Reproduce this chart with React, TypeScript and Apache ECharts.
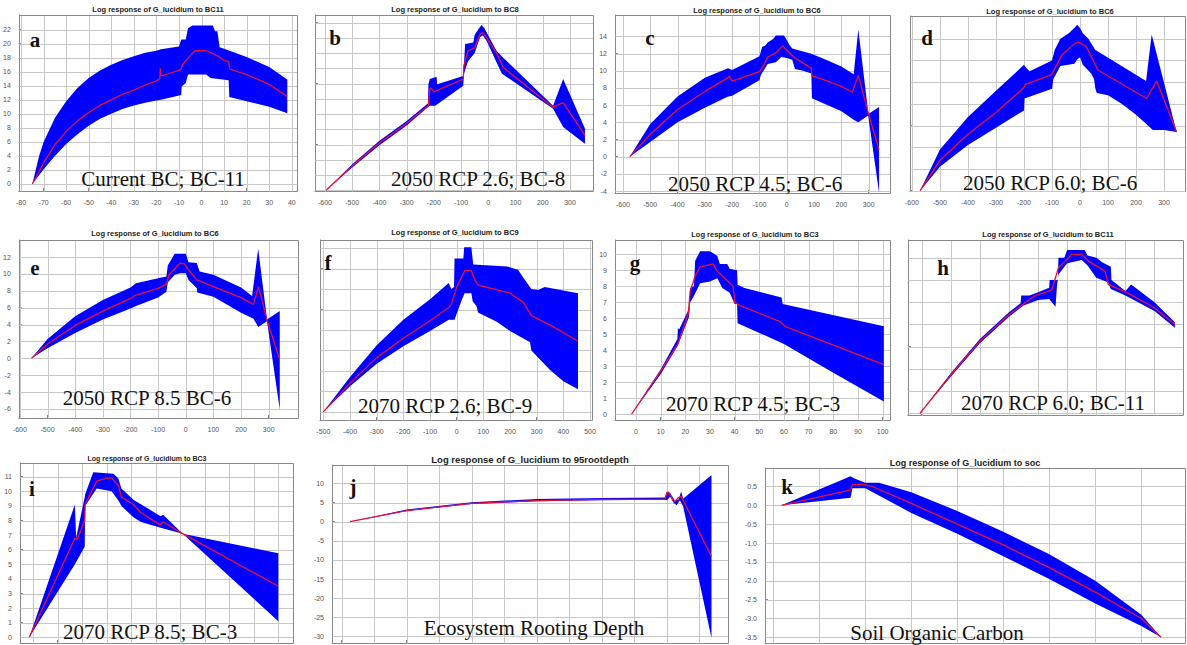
import React, { useEffect, useRef } from "react";
import * as echarts from "echarts";

type P = [number, number][];

// ---------- data: panel a ----------
const aUpper: P = [[-75,0],[-72,4.0],[-70,6.0],[-65,9.4],[-60,11.8],[-55,13.7],[-50,15.1],[-45,16.2],[-40,17.0],[-35,17.7],[-30,18.2],[-25,18.7],[-20,19.0],[-18,19.2],[-10,19.6],[-9,20.6],[-7,20.6],[-6,22.2],[-4,22.6],[5,22.6],[6,21.8],[7,21.8],[8,19.5],[10,19.3],[20,18.1],[30,16.7],[38,14.9]];
const aLower: P = [[-75,0],[-70,2.1],[-65,4.0],[-60,5.7],[-55,7.1],[-50,8.3],[-45,9.3],[-40,10.0],[-35,10.7],[-30,11.2],[-25,11.6],[-20,11.9],[-18,12.0],[-9,12.7],[-8.8,13.9],[-7,14.4],[-6,15.6],[2,15.6],[4,15.1],[12,14.8],[12.3,12.4],[20,11.8],[30,11.0],[38,10.1]];
const aMean: P = [[-75,0],[-70,3.0],[-65,5.6],[-60,7.5],[-55,9.0],[-50,10.2],[-45,11.2],[-40,12.0],[-35,12.8],[-30,13.4],[-25,14.1],[-20,14.7],[-18.5,15.0],[-18.3,16.5],[-18,15.4],[-10,16.2],[-9,16.4],[-8.5,17.0],[-5,18.3],[-3,19.0],[2,19.0],[5,18.6],[8,18.1],[10,17.6],[12,17.5],[12.5,16.4],[20,15.6],[30,14.2],[38,12.5]];
const aXTicks = [-80,-70,-60,-50,-40,-30,-20,-10,0,10,20,30,40];
const aYTicks = [0,2,4,6,8,10,12,14,16,18,20,22];

// ---------- panel b ----------
const bUpper: P = [[-596,0],[-500,3.4],[-400,6.5],[-300,9.1],[-222,11.4],[-220,13.9],[-215,14.6],[-190,14.9],[-188,13.9],[-92,15.0],[-90,16.3],[-85,19.2],[-55,19.4],[-50,20.4],[-35,21.2],[-25,21.7],[-15,21.3],[30,18.3],[55,17.4],[238,11.1],[275,14.6],[355,8.1]];
const bLower: P = [[-596,0],[-500,3.0],[-400,5.9],[-300,8.5],[-222,10.9],[-215,11.1],[-195,11.1],[-92,13.7],[-90,15.2],[-75,16.9],[-50,18.0],[-30,20.1],[-20,20.3],[-6,19.6],[30,16.8],[50,15.3],[238,10.7],[275,8.3],[355,6.1]];
const bMean: P = [[-596,0],[-500,3.2],[-400,6.2],[-300,8.8],[-220,11.1],[-215,13.3],[-210,13.4],[-200,12.9],[-92,14.6],[-90,16.3],[-75,18.3],[-50,18.7],[-30,20.5],[-20,20.7],[-6,20.0],[30,18.0],[55,16.1],[238,10.9],[275,11.5],[355,7.2]];
const bXTicks = [-600,-500,-400,-300,-200,-100,0,100,200,300];
const bYTicks = [0,2,4,6,8,10,12,14,16,18,20,22];

// ---------- panel c ----------
const cUpper: P = [[-575,0],[-500,3.8],[-400,7.0],[-300,9.2],[-215,10.3],[-200,10.1],[-100,11.7],[-90,12.8],[-80,12.9],[-70,13.3],[-50,13.7],[-40,14.1],[-10,14.1],[0,13.6],[10,13.0],[20,12.6],[90,12.0],[150,11.2],[200,10.5],[245,9.6],[262,14.8],[298,5.2],[300,5.0],[338,5.8]];
const cLower: P = [[-575,0],[-500,1.7],[-400,4.0],[-300,5.7],[-215,7.0],[-213,7.0],[-200,7.1],[-100,8.9],[-95,9.5],[-70,10.8],[-40,11.0],[-20,11.6],[0,11.5],[20,11.3],[30,10.2],[60,10.0],[90,9.7],[92,6.8],[150,6.0],[200,5.3],[245,4.3],[262,4.0],[298,4.8],[338,-4.2]];
const cMean: P = [[-575,0],[-500,2.6],[-400,5.5],[-300,7.6],[-215,9.2],[-212,9.4],[-200,8.8],[-100,9.9],[-85,10.6],[-70,11.6],[-40,12.1],[-15,12.9],[30,11.5],[60,10.9],[90,10.3],[92,9.4],[150,8.8],[200,8.2],[240,7.5],[262,9.5],[300,4.9],[338,0.8]];
const cXTicks = [-600,-500,-400,-300,-200,-100,0,100,200,300];
const cYTicks = [-4,-2,0,2,4,6,8,10,12,14];

// ---------- panel d ----------
const dUpper: P = [[-571,0],[-500,3.8],[-400,6.8],[-300,9.2],[-200,11.6],[-195,11.4],[-180,11.0],[-100,12.0],[-90,13.0],[-70,14.0],[-40,14.5],[-20,15.0],[-10,15.3],[0,15.0],[10,14.5],[30,14.0],[54,13.0],[236,10.1],[256,14.4],[345,5.4]];
const dLower: P = [[-571,0],[-500,2.2],[-400,4.2],[-300,5.8],[-200,7.4],[-198,8.5],[-100,9.4],[-95,10.3],[-70,11.5],[-20,11.7],[-10,12.1],[0,12.3],[10,11.6],[40,10.8],[50,10.3],[55,9.4],[60,9.0],[100,8.8],[150,8.0],[200,7.0],[235,6.2],[260,5.6],[300,5.6],[345,5.4]];
const dMean: P = [[-571,0],[-500,2.8],[-400,5.2],[-300,7.2],[-200,9.5],[-195,9.8],[-185,9.9],[-101,10.7],[-65,12.5],[-17,13.6],[-6,13.7],[22,13.3],[65,11.1],[238,8.5],[274,10.1],[345,5.4]];
const dXTicks = [-600,-500,-400,-300,-200,-100,0,100,200,300];
const dYTicks = [0,2,4,6,8,10,12,14];

// ---------- panel e ----------
const eUpper: P = [[-558,0],[-500,2.3],[-400,5.0],[-300,6.9],[-200,8.4],[-180,8.9],[-100,9.5],[-70,9.7],[-65,11.0],[-40,12.4],[0,12.4],[10,11.4],[40,11.3],[42,11.1],[50,10.3],[100,9.9],[200,8.4],[240,7.4],[262,13.0],[294,4.6],[340,5.6]];
const eLower: P = [[-558,0],[-500,1.2],[-400,3.0],[-300,4.6],[-200,5.9],[-180,6.2],[-100,7.2],[-70,7.9],[-65,9.0],[-40,9.9],[-20,10.1],[0,10.1],[10,9.3],[40,8.3],[42,7.8],[100,7.3],[200,5.4],[245,4.7],[262,3.7],[294,4.4],[340,-6.1]];
const eMean: P = [[-558,0],[-500,1.7],[-400,3.9],[-300,5.6],[-200,7.1],[-180,7.5],[-100,8.3],[-70,8.8],[-61,9.9],[-20,11.3],[-5,11.2],[10,10.5],[40,9.3],[100,8.5],[200,7.2],[245,6.4],[263,8.5],[294,4.5],[338,0]];
const eXTicks = [-600,-500,-400,-300,-200,-100,0,100,200,300];
const eYTicks = [-6,-4,-2,0,2,4,6,8,10,12];

// ---------- panel f ----------
const fUpper: P = [[-500,0],[-400,3.4],[-300,6.5],[-200,9.0],[-100,11.0],[-30,12.6],[-20,12.0],[-10,12.2],[-8,15.0],[25,15.0],[28,16.1],[55,16.1],[62,14.4],[190,14.2],[230,13.9],[250,13.1],[280,12.0],[305,11.9],[330,12.2],[455,11.6]];
const fLower: P = [[-500,0],[-400,2.5],[-300,4.7],[-200,6.4],[-100,7.9],[-30,9.0],[-8,9.0],[0,9.6],[20,11.0],[30,11.6],[55,11.6],[60,10.8],[75,10.3],[80,9.7],[150,8.8],[200,7.9],[275,6.8],[280,6.0],[350,4.1],[400,3.0],[455,2.2]];
const fMean: P = [[-500,0],[-400,2.8],[-300,5.3],[-200,7.2],[-100,8.9],[-30,10.2],[-20,10.5],[0,12.2],[30,13.8],[55,13.8],[68,12.9],[80,12.4],[200,11.6],[250,10.7],[280,9.4],[356,8.4],[455,6.9]];
const fXTicks = [-500,-400,-300,-200,-100,0,100,200,300,400,500];
const fYTicks = [0,2,4,6,8,10,12,14,16];

// ---------- panel g ----------
const gUpper: P = [[-1.8,0],[10,2.8],[16.8,4.7],[17,5.4],[17.5,5.3],[21.5,6.6],[22,7.9],[23.5,8.0],[24,9.6],[26,10.2],[30,10.2],[31,10.1],[33,9.9],[34,9.4],[37,9.4],[38,9.1],[41,9.0],[41.2,8.1],[44,7.9],[59,7.3],[59.5,6.9],[100.5,5.5]];
const gLower: P = [[-1.8,0],[10,2.5],[17,4.3],[21.5,6.1],[22,7.0],[23.5,7.4],[26,8.2],[30,8.3],[33,8.5],[35,7.9],[38,7.6],[40,6.9],[41,6.9],[41.2,5.7],[60,4.4],[80,2.6],[100.5,0.8]];
const gMean: P = [[-1.8,0],[10,2.7],[17,4.4],[21.2,6.3],[22,7.7],[23.9,8.6],[25.9,9.2],[31.3,9.4],[32.6,9.0],[37.4,8.3],[39.4,8.0],[40.1,7.0],[42.2,6.8],[58.4,5.8],[60.4,5.5],[100.5,3.1]];
const gXTicks = [0,10,20,30,40,50,60,70,80,90,100];
const gYTicks = [0,1,2,3,4,5,6,7,8,9,10];

// ---------- panel h ----------
const hUpper: P = [[-0.6,0],[10,3.6],[20,6.7],[30,9.1],[34,9.9],[34.2,10.6],[37,10.6],[40,10.9],[43.8,11.3],[44,12.0],[46.8,12.0],[47,14.0],[49,14.0],[50,14.7],[56,14.7],[57,14.2],[60,14.0],[62,13.6],[65,13.2],[65.2,12.0],[70,11.0],[72,11.6],[80,10.0],[87,8.2]];
const hLower: P = [[-0.6,0],[10,3.3],[20,6.3],[30,8.7],[35,9.7],[40,10.2],[43.8,10.3],[46,9.6],[46.5,11.5],[47,12.5],[50,13.5],[55,13.8],[57,13.3],[60,12.2],[64,11.8],[65,11.2],[70,10.6],[80,9.2],[87,7.7]];
const hMean: P = [[-0.6,0],[10,3.45],[20,6.5],[30,8.9],[39,10.6],[44.7,11.1],[47,13.1],[49.3,13.7],[51.5,14.3],[55,14.3],[57.3,13.7],[63,12.8],[64.1,11.6],[71,10.8],[80,9.5],[87,8.0]];
const hXTicks = [0,10,20,30,40,50,60,70,80];
const hYTicks = [0,2,4,6,8,10,12,14];

// ---------- panel i ----------
const iUpper: P = [[-1.6,0],[17,9.1],[17.5,6.8],[21,9.6],[21.2,9.8],[24.5,11.3],[32.7,11.2],[34.7,10.9],[36,10.2],[41,9.4],[52,8.3],[53,8.4],[61,7.1],[100,5.75]];
const iLower: P = [[-1.6,0],[17,5.0],[21,6.2],[21.2,9.0],[25.9,10.2],[32,10.0],[35,9.3],[36,9.0],[41,8.2],[44,7.9],[52,7.5],[61,7.1],[100,1.1]];
const iMean: P = [[-1.6,0],[17,6.8],[18,6.7],[21,8.0],[21.2,9.1],[25.9,10.7],[29.9,10.9],[32,10.9],[34.7,10.4],[36,9.6],[40.8,9.1],[43.5,8.6],[51.7,7.7],[53,7.9],[61,7.1],[100,3.5]];
const iXTicks = [0,10,20,30,40,50,60,70,80,90,100];
const iYTicks = [0,1,2,3,4,5,6,7,8,9,10,11];

// ---------- panel j ----------
const jUpper: P = [[12.8,0],[100,3.2],[200,5.1],[300,5.9],[400,6.2],[497,6.3],[500,7.7],[505,7.5],[512,5.6],[518,5.8],[522,7.9],[525,6.0],[568.6,12.2]];
const jLower: P = [[12.8,0],[100,2.8],[200,4.6],[300,5.3],[400,5.6],[497,5.7],[500,5.6],[505,6.5],[510,5.0],[515,4.3],[520,5.6],[525,4.0],[568.6,-30.4]];
const jMean: P = [[12.8,0],[100,2.9],[200,4.8],[300,5.5],[400,5.8],[497,5.9],[500,7.6],[503,7.7],[508,6.0],[512,5.2],[518,6.3],[522,6.6],[568.6,-9.1]];
const jXTicks = [0,50,100,150,200,250,300,350,400,450,500,550];
const jYTicks = [-30,-25,-20,-15,-10,-5,0,5,10];

// ---------- panel k ----------
const kUpper: P = [[1.8,0],[16.8,0.77],[17.5,0.72],[20,0.6],[23,0.6],[30,0.35],[40,-0.15],[50,-0.7],[60,-1.3],[70,-2.0],[80,-2.9],[84.3,-3.5]];
const kLower: P = [[1.8,0],[16.8,0.2],[17.2,0.45],[20,0.45],[30,-0.2],[40,-0.75],[50,-1.35],[60,-1.95],[70,-2.6],[80,-3.2],[84.3,-3.5]];
const kMean: P = [[1.8,0],[16.8,0.41],[17.2,0.54],[19.3,0.56],[21.5,0.5],[30,0.05],[40,-0.5],[50,-1.05],[60,-1.65],[70,-2.3],[80,-3.0],[84.3,-3.5]];
const kXTicks = [0,10,20,30,40,50,60,70,80];
const kYTicks = [-3.5,-3,-2.5,-2,-1.5,-1,-0.5,0,0.5];

// ---------- text ----------
const titles = [
  "Log response of G_lucidium to BC11", "Log response of G_lucidium to BC8", "Log response of G_lucidium to BC6",
  "Log response of G_lucidium to BC6", "Log response of G_lucidium to BC6", "Log response of G_lucidium to BC9",
  "Log response of G_lucidium to BC3", "Log response of G_lucidium to BC11", "Log response of G_lucidium to BC3",
  "Log response of G_lucidium to 95rootdepth", "Log response of G_lucidium to soc",
];
const letters = ["a", "b", "c", "d", "e", "f", "g", "h", "i", "j", "k"];
const captions = [
  "Current BC; BC-11", "2050 RCP 2.6; BC-8", "2050 RCP 4.5; BC-6", "2050 RCP 6.0; BC-6",
  "2050 RCP 8.5 BC-6", "2070 RCP 2.6; BC-9", "2070 RCP 4.5; BC-3", "2070 RCP 6.0; BC-11",
  "2070 RCP 8.5; BC-3", "Ecosystem Rooting Depth", "Soil Organic Carbon",
];

// ---------- layout (pixels) ----------
const layout = [
  { box: [16, 15, 297, 191], xr: [-81.0, 42.3], yr: [-1.0, 24.1], sx: true, sy: true, tp: [158, 9], ts: 7.5, lp: [35, 40], cp: [163, 179] },
  { box: [315, 15, 593, 191], xr: [-636.7, 384.6], yr: [-0.1, 23.0], sx: true, sy: false, tp: [455, 9], ts: 7.5, lp: [335, 38], cp: [478, 179] },
  { box: [615, 15, 890, 193], xr: [-629, 378], yr: [-4.23, 16.5], sx: true, sy: true, tp: [757, 10], ts: 7.5, lp: [650, 38], cp: [755, 184] },
  { box: [910, 16, 1185, 191], xr: [-607, 375], yr: [-0.03, 16.1], sx: true, sy: false, tp: [1050, 11], ts: 7.5, lp: [927, 38], cp: [1050, 183] },
  { box: [17, 240, 298, 418], xr: [-604, 406], yr: [-7.08, 14.03], sx: true, sy: true, tp: [155, 233], ts: 7.5, lp: [35, 268], cp: [147, 398] },
  { box: [320, 240, 592, 420], xr: [-512.6, 507.4], yr: [-0.8, 16.8], sx: true, sy: false, tp: [455, 232], ts: 7.5, lp: [328, 263], cp: [445, 406] },
  { box: [615, 240, 890, 420], xr: [-8.5, 103], yr: [-0.36, 10.9], sx: true, sy: true, tp: [755, 234], ts: 7.5, lp: [635, 263], cp: [753, 404] },
  { box: [908, 240, 1183, 415], xr: [-4.7, 89.8], yr: [-0.15, 15.6], sx: false, sy: false, tp: [1048, 234], ts: 7.5, lp: [943, 268], cp: [1053, 403] },
  { box: [20, 463, 293, 643], xr: [-5.4, 106], yr: [-0.39, 11.94], sx: false, sy: true, tp: [147, 458], ts: 7, lp: [32, 489], cp: [150, 632] },
  { box: [332, 465, 728, 643], xr: [-14.9, 594], yr: [-31.7, 14.8], sx: false, sy: true, tp: [530, 459], ts: 9.5, lp: [353, 487], cp: [534, 628] },
  { box: [765, 468, 1185, 643], xr: [-1.8, 89.5], yr: [-3.65, 0.99], sx: false, sy: true, tp: [965, 463], ts: 9, lp: [787, 487], cp: [937, 633] },
];

const bands: [P, P, P][] = [
  [aUpper, aLower, aMean], [bUpper, bLower, bMean], [cUpper, cLower, cMean], [dUpper, dLower, dMean],
  [eUpper, eLower, eMean], [fUpper, fLower, fMean], [gUpper, gLower, gMean], [hUpper, hLower, hMean],
  [iUpper, iLower, iMean], [jUpper, jLower, jMean], [kUpper, kLower, kMean],
];
const xTickSets = [aXTicks, bXTicks, cXTicks, dXTicks, eXTicks, fXTicks, gXTicks, hXTicks, iXTicks, jXTicks, kXTicks];
const yTickSets = [aYTicks, bYTicks, cYTicks, dYTicks, eYTicks, fYTicks, gYTicks, hYTicks, iYTicks, jYTicks, kYTicks];

const AXIS = "#888888";
const GRIDC = "#c8c8c8";

function buildOption() {
  const grid: any[] = [];
  const xAxis: any[] = [];
  const yAxis: any[] = [];
  const series: any[] = [];
  const graphic: any[] = [];

  layout.forEach((L, i) => {
    const [l, t, r, b] = L.box;
    grid.push({ left: l, top: t, width: r - l, height: b - t, show: false });
    const isK = i === 10;
    const xt = xTickSets[i];
    const yt = yTickSets[i];
    xAxis.push({
      type: "value", gridIndex: i, min: L.xr[0], max: L.xr[1],
      axisLine: { show: true, onZero: false, lineStyle: { color: AXIS } },
      axisTick: { show: true, inside: true, length: 3, customValues: xt, lineStyle: { color: AXIS, width: 1 } },
      axisLabel: { show: L.sx, customValues: xt, fontSize: 7, color: "#555" },
      splitLine: { show: false },
    });
    const yLabel: any = { show: L.sy, customValues: yt, fontSize: 7, color: "#555" };
    if (isK) yLabel.formatter = (v: number) => v.toFixed(1);
    yAxis.push({
      type: "value", gridIndex: i, min: L.yr[0], max: L.yr[1],
      axisLine: { show: true, onZero: false, lineStyle: { color: AXIS } },
      axisTick: { show: true, inside: true, length: 3, customValues: yt, lineStyle: { color: AXIS, width: 1 } },
      axisLabel: yLabel,
      splitLine: { show: false },
    });
    const xr = L.xr;
    const yr = L.yr;
    // grid lines and frame, placed through the axes' own scales
    series.push({
      type: "custom", xAxisIndex: i, yAxisIndex: i, data: [[xr[0], yr[0]]], z: 1, silent: true,
      renderItem: (_p: any, api: any) => {
        const bl = api.coord([xr[0], yr[0]]);
        const tr = api.coord([xr[1], yr[1]]);
        const X0 = Math.round(bl[0]) + 0.5, Y0 = Math.round(bl[1]) + 0.5;
        const X1 = Math.round(tr[0]) + 0.5, Y1 = Math.round(tr[1]) + 0.5;
        const children: any[] = [];
        xt.forEach((v) => {
          const x = Math.round(api.coord([v, yr[0]])[0]) + 0.5;
          children.push({ type: "line", shape: { x1: x, y1: Y1, x2: x, y2: Y0 }, style: { stroke: GRIDC, lineWidth: 1 } });
        });
        yt.forEach((v) => {
          const y = Math.round(api.coord([xr[0], v])[1]) + 0.5;
          children.push({ type: "line", shape: { x1: X0, y1: y, x2: X1, y2: y }, style: { stroke: GRIDC, lineWidth: 1 } });
        });
        children.push({ type: "line", shape: { x1: X0, y1: Y1, x2: X1, y2: Y1 }, style: { stroke: AXIS, lineWidth: 1 } });
        children.push({ type: "line", shape: { x1: X1, y1: Y1, x2: X1, y2: Y0 }, style: { stroke: AXIS, lineWidth: 1 } });
        return { type: "group", children };
      },
    });
    const [up, lo, mean] = bands[i];
    series.push({
      type: "custom", xAxisIndex: i, yAxisIndex: i, data: [up[0]], z: 2, silent: true,
      renderItem: (_p: any, api: any) => ({
        type: "polygon",
        shape: { points: up.map((p) => api.coord(p)).concat(lo.slice().reverse().map((p) => api.coord(p))) },
        style: { fill: "#0000ff" },
      }),
    });
    series.push({
      type: "line", xAxisIndex: i, yAxisIndex: i, data: mean, symbol: "none", z: 3, silent: true,
      lineStyle: { color: "#e8103a", width: 1.3 },
    });
    graphic.push({
      type: "text", x: L.tp[0], y: L.tp[1], z: 100,
      style: { text: titles[i], align: "center", verticalAlign: "middle", font: `bold ${L.ts}px sans-serif`, fill: "#222" },
    });
    graphic.push({
      type: "text", x: L.lp[0], y: L.lp[1], z: 100,
      style: { text: letters[i], align: "center", verticalAlign: "middle", font: `bold 21px "Liberation Serif"`, fill: "#111" },
    });
    graphic.push({
      type: "text", x: L.cp[0], y: L.cp[1], z: 100,
      style: { text: captions[i], align: "center", verticalAlign: "middle", font: `21px "Liberation Serif"`, fill: "#111" },
    });
  });

  return { animation: false, backgroundColor: "#fff", grid, xAxis, yAxis, series, graphic };
}

export default function App() {
  const ref = useRef<HTMLDivElement>(null);
  useEffect(() => {
    if (!ref.current) return;
    const chart = echarts.init(ref.current, undefined, { renderer: "svg" });
    chart.setOption(buildOption() as any);
    return () => chart.dispose();
  }, []);
  return <div ref={ref} style={{ position: "fixed", left: 0, top: 0, width: 1187, height: 645, background: "#fff" }} />;
}
